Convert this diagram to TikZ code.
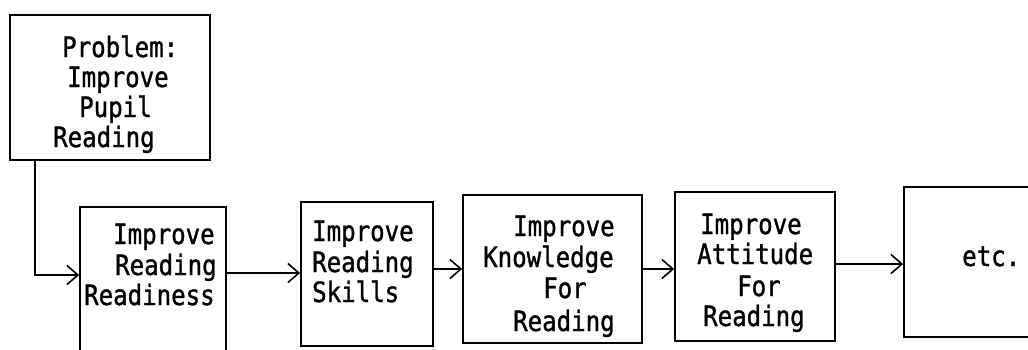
\documentclass[tikz,border=0pt]{standalone}
\usepackage{fontspec}
\usetikzlibrary{arrows.meta}
\newfontfamily\typewriter[FakeStretch=0.86,FakeBold=1.2]{DejaVu Sans Mono}
\begin{document}
\begin{tikzpicture}[x=1pt,y=-1pt,
  box/.style={draw=black, line width=1.7pt, rectangle, inner sep=0pt},
  txt/.style={anchor=base west, inner sep=0pt, font=\typewriter\fontsize{28}{30}\selectfont},
  arr/.style={line width=1.6pt, -{Straight Barb[length=11pt,width=19pt,line width=1.6pt]}}]
\useasboundingbox (0,0) rectangle (1028,349);
\clip (0,0) rectangle (1028,349);
\fill[white] (0,0) rectangle (1028,349);

% boxes (the second row runs past the page edge)
\node[box, minimum width=200pt, minimum height=145pt] (P)  at (110,87.5) {};
\node[box, minimum width=146pt, minimum height=160pt] (B1) at (153,287) {};
\node[box, minimum width=132pt, minimum height=144pt] (B2) at (367,274) {};
\node[box, minimum width=179pt, minimum height=148pt] (B3) at (552.5,269) {};
\node[box, minimum width=160pt, minimum height=149pt] (B4) at (755,266.5) {};
\node[box, minimum width=150pt, minimum height=150pt] (B5) at (979,262) {};

% typed labels
\node[txt] (p1) at (62,57)  {Problem:};
\node[txt] (p2) at (67,87)  {Improve};
\node[txt] (p3) at (79,117) {Pupil};
\node[txt] (p4) at (53,147) {Reading};

\node[txt] (a1) at (113,244) {Improve};
\node[txt] (a2) at (115,275) {Reading};
\node[txt] (a3) at (84,305)  {Readiness};

\node[txt] (b1) at (312,241) {Improve};
\node[txt] (b2) at (312,272) {Reading};
\node[txt] (b3) at (312,302) {Skills};

\node[txt] (c1) at (513,236) {Improve};
\node[txt] (c2) at (483,267) {Knowledge};
\node[txt] (c3) at (543,298) {For};
\node[txt] (c4) at (513,331) {Reading};

\node[txt] (d1) at (700,234) {Improve};
\node[txt] (d2) at (697,264) {Attitude};
\node[txt] (d3) at (737,296) {For};
\node[txt] (d4) at (703,326) {Reading};

\node[txt] (e1) at (962,266) {etc.};

% connectors
\draw[arr] (P.south -| 35,0) |- (B1.west |- 0,275);
\draw[arr] (B1.east |- 0,273) -- (B2.west |- 0,273);
\draw[arr] (B2.east |- 0,269) -- (B3.west |- 0,269);
\draw[arr] (B3.east |- 0,269) -- (B4.west |- 0,269);
\draw[arr] (B4.east |- 0,264) -- (B5.west |- 0,264);
\end{tikzpicture}
\end{document}
